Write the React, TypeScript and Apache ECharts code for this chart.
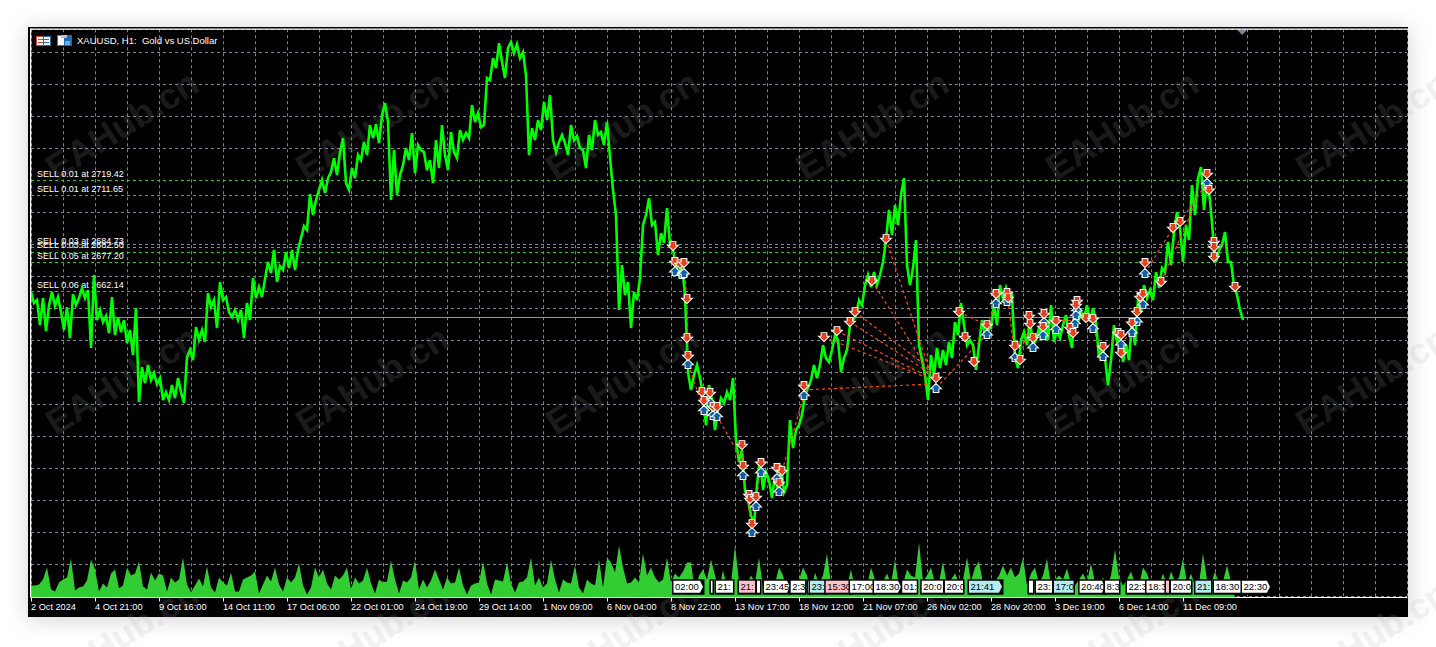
import React, { useEffect, useRef } from "react";
import * as echarts from "echarts";

const SYMBOL_TITLE = "XAUUSD, H1:  Gold vs US Dollar";
const WATERMARK = "EAHub.cn";

const dateLabels = ["2 Oct 2024", "4 Oct 21:00", "9 Oct 16:00", "14 Oct 11:00", "17 Oct 06:00", "22 Oct 01:00", "24 Oct 19:00", "29 Oct 14:00", "1 Nov 09:00", "6 Nov 04:00", "8 Nov 22:00", "13 Nov 17:00", "18 Nov 12:00", "21 Nov 07:00", "26 Nov 02:00", "28 Nov 20:00", "3 Dec 19:00", "6 Dec 14:00", "11 Dec 09:00"];

const sellLots = ["0.01", "0.01", "0.03", "0.03", "0.05", "0.06"];
const sellPrices = ["2719.42", "2711.65", "2684.73", "2682.50", "2677.20", "2662.14"];
const currentPrice = 2648.7;

// one price every 3 bars
const prices = [
  2661.8, 2656.2, 2657.7, 2644.8, 2658.7, 2641.7, 2655.1, 2661.8, 2654.6, 2659.2, 2651.5, 2642.2, 2654.1, 2638.1, 2660.8, 2655.1, 2658.7, 2663.9, 2658.7, 2662.9,
  2633.0, 2670.6, 2647.4, 2652.6, 2646.4, 2649.5, 2640.7, 2659.2, 2639.7, 2648.9, 2641.2, 2647.4, 2635.6, 2642.2, 2629.4, 2653.6, 2605.2, 2623.2, 2614.9, 2624.2,
  2616.5, 2620.1, 2614.4, 2617.5, 2606.2, 2610.3, 2606.2, 2613.9, 2607.2, 2617.5, 2610.3, 2604.7, 2628.3, 2632.0, 2626.8, 2643.8, 2637.1, 2642.2, 2636.1, 2661.3,
  2654.1, 2657.7, 2643.3, 2667.0, 2657.7, 2659.2, 2651.5, 2648.9, 2652.6, 2647.4, 2652.6, 2638.1, 2656.2, 2647.4, 2669.0, 2658.7, 2664.4, 2659.2, 2668.5, 2677.3,
  2671.6, 2683.5, 2667.0, 2675.2, 2673.2, 2682.4, 2674.2, 2683.5, 2673.2, 2683.5,
  2689.6, 2695.8, 2693.8, 2712.3, 2701.5, 2709.2, 2714.4, 2719.5, 2712.8, 2720.5,
  2723.6, 2730.8, 2722.1, 2733.9, 2741.1, 2718.0, 2714.4, 2725.7, 2720.5, 2732.4,
  2729.8, 2739.1, 2732.4, 2747.8, 2741.1, 2748.3, 2738.6, 2753.0, 2759.2, 2749.4,
  2709.2, 2734.9, 2711.8, 2722.1, 2727.2, 2736.0, 2729.8, 2743.7, 2723.1, 2737.5,
  2734.9, 2733.9, 2724.6, 2729.8, 2718.0, 2740.1, 2725.7, 2747.8, 2732.4, 2724.6,
  2744.2, 2733.9, 2730.8, 2745.2, 2740.1, 2743.7, 2741.1, 2758.1, 2749.4, 2754.0,
  2746.8, 2747.8, 2772.0, 2771.0, 2782.3, 2777.2, 2790.0, 2780.3, 2772.0, 2787.5,
  2790.6, 2784.9, 2789.5, 2782.3, 2785.4, 2773.6, 2732.4, 2746.3, 2740.1, 2750.4,
  2745.2, 2759.7, 2750.4, 2763.3, 2740.1, 2733.9, 2739.1, 2742.7, 2738.6, 2732.4,
  2747.8, 2740.1, 2742.2, 2736.0, 2734.9, 2725.7, 2742.7, 2734.9, 2750.4, 2742.7,
  2744.2, 2737.5, 2749.4, 2731.3, 2714.4, 2701.5, 2652.6, 2675.7, 2660.3, 2667.0,
  2643.3, 2661.8, 2657.7, 2669.0, 2696.3, 2701.5, 2710.2, 2696.3, 2697.9, 2680.9,
  2692.2, 2687.1, 2705.1, 2686.0, 2683.5, 2675.7, 2670.6, 2675.7, 2660.3, 2620.6,
  2611.4, 2619.1, 2624.2, 2617.5, 2608.8, 2593.3, 2613.9, 2606.2, 2590.7, 2601.1,
  2607.2, 2604.7, 2610.3, 2606.2, 2617.5, 2585.6, 2574.3, 2580.4, 2559.9, 2554.7,
  2547.0, 2541.8, 2562.4, 2576.3, 2559.9, 2569.1, 2565.0, 2555.7, 2567.6, 2559.9,
  2572.7, 2558.8, 2562.4, 2595.9, 2581.5, 2590.7, 2593.3, 2598.5, 2608.8, 2612.4,
  2616.5, 2624.2, 2617.5, 2624.2, 2634.5, 2627.8, 2625.8, 2632.0, 2639.7, 2637.1,
  2620.6, 2627.8, 2632.0, 2644.8, 2647.4, 2650.0, 2657.7, 2655.1, 2665.4, 2670.6,
  2664.4, 2672.1, 2665.4, 2670.6, 2677.3, 2688.6, 2704.1, 2691.2, 2706.6, 2696.3,
  2711.8, 2720.5, 2675.7, 2665.4, 2674.2, 2688.6, 2634.5, 2626.8, 2619.1, 2606.2,
  2629.4, 2619.1, 2633.0, 2622.7, 2632.0, 2624.2, 2636.1, 2627.8, 2646.4, 2639.7,
  2656.2, 2644.8, 2634.5, 2637.1, 2634.5, 2621.7, 2634.5, 2647.4, 2639.7, 2642.2,
  2643.3, 2655.1, 2644.8, 2665.4, 2658.7, 2663.9, 2657.7, 2660.3, 2627.8, 2622.7,
  2637.1, 2641.2, 2634.5, 2647.4, 2634.5, 2637.1, 2643.3, 2637.1, 2646.4, 2637.1,
  2655.1, 2636.1, 2642.2, 2638.1, 2644.8, 2650.0, 2639.7, 2633.0, 2655.1, 2646.4,
  2651.5, 2648.4, 2655.1, 2646.4, 2653.6, 2646.4, 2627.8, 2634.5, 2627.8, 2613.9,
  2626.8, 2644.8, 2636.1, 2639.7, 2625.8, 2634.5, 2626.8, 2647.4, 2634.5, 2657.7,
  2651.5, 2665.4, 2658.7, 2662.9, 2657.7, 2672.1, 2663.9, 2674.2, 2672.1, 2687.6,
  2675.7, 2692.7, 2703.0, 2694.8, 2677.3, 2696.3, 2688.6, 2716.9, 2701.5, 2720.5,
  2726.2, 2704.1, 2719.5, 2709.2, 2691.2, 2677.3, 2683.5, 2686.0, 2692.7, 2677.3,
  2677.3, 2665.4, 2660.3, 2652.6, 2647.4,
];

// one tick volume every 4 bars
const volumes = [
  1200, 1200, 1300, 1800, 3000, 800, 600, 1500, 1800, 2000, 3900, 700, 1000, 1100, 1700, 3800, 2800, 600, 1400, 1000, 2400, 2800, 900, 1200, 3000, 2200, 2400, 3600, 1100, 800, 2500, 1700, 2400, 2200, 600, 2000, 1500, 1800, 4000, 1300,
  500, 1200, 1900, 1100, 3100, 1000, 500, 2000, 1500, 1200, 2500, 600, 600, 1800, 2000, 2200, 2600, 400, 1300, 2200, 1600, 3000, 1300, 600, 2000, 1500, 2000, 3400, 1200, 300, 1000, 3000, 2000, 2800, 1400, 800, 2200, 1800, 2200, 3000,
  800, 2000, 1400, 1700, 3000, 1400, 400, 1800, 1500, 1600, 3700, 1800, 400, 1700, 1500, 2000, 3700, 800, 1800, 1000, 1700, 2800, 1800, 800, 2000, 1400, 1500, 3000, 1200, 300, 1200, 1400, 1500, 3600, 1400, 300, 1800, 1700, 1600, 3500,
  1400, 500, 1500, 1600, 2000, 4000, 1200, 2000, 1000, 1400, 3800, 1800, 500, 1800, 1500, 1400, 3200, 1000, 400, 1800, 1400, 1200, 3800, 1000, 4000, 3500, 2500, 5200, 3000, 1400, 1500, 2000, 1500, 4400, 2200, 3000, 2000, 1500, 1800, 4000,
  1500, 2400, 2000, 2600, 3500, 3500, 500, 2200, 2800, 1800, 3800, 2200, 800, 2700, 1100, 1400, 5200, 1600, 1800, 1400, 2200, 1500, 4000, 1000, 1200, 1000, 1400, 3000, 2200, 800, 1100, 1600, 1800, 3000, 2200, 500, 2500, 1400, 2200, 4400,
  1400, 1100, 1100, 1200, 1200, 2800, 900, 1000, 1300, 1200, 3000, 1800, 1400, 1600, 2400, 1400, 3800, 1000, 1400, 2800, 2200, 2000, 5500, 1600, 2200, 3000, 1400, 1500, 3600, 1100, 1800, 2400, 1500, 1800, 4000,
  1600, 3000, 3600, 1400, 1000, 1200, 1600, 2200, 3200, 2200, 3000, 2000, 2400, 4000, 1200, 2400, 3000, 1400, 2200, 3900, 1200, 1800, 2200, 1800, 2900, 1400, 1200, 1800, 2400, 1600, 3400, 1500, 1400, 2000, 1200, 2200, 4800, 2000, 1200, 1800,
  2600, 1400, 1200, 3000, 2400, 1200, 1400, 1200, 2400, 1200, 2600, 1600, 2000, 3900, 1400, 2400, 1200, 1400, 4400, 1800, 1400, 2600, 1400, 1600, 3200, 1600, 0,
];

// order arrows: bar index, then price
const sellBars = [642, 644, 649, 653, 656, 656, 657, 671, 673, 679, 682, 686, 711, 712, 718, 719, 725, 721, 730, 746, 751, 748, 773, 793, 806, 819, 824, 841, 855, 905, 928, 934, 943, 956, 965, 976, 977, 984, 989, 998, 999, 1002, 1012, 1013, 1025, 1039, 1042, 1046, 1045, 1055, 1062, 1072, 1087, 1090, 1090, 1101, 1106, 1109, 1112, 1114, 1130, 1142, 1149, 1176, 1178, 1183, 1183, 1183, 1204];
const sellLevels = [2685.5, 2677.3, 2676.2, 2676.8, 2658.2, 2638.1, 2628.9, 2610.3, 2605.7, 2609.8, 2602.6, 2602.6, 2583.0, 2572.2, 2557.3, 2555.2, 2556.2, 2542.3, 2573.8, 2571.2, 2569.6, 2563.4, 2613.4, 2638.6, 2641.7, 2646.4, 2651.5, 2667.5, 2689.1, 2617.5, 2651.5, 2638.6, 2625.8, 2644.8, 2660.8, 2661.3, 2658.7, 2634.0, 2626.8, 2649.5, 2645.3, 2638.1, 2643.8, 2650.5, 2646.9, 2643.3, 2640.7, 2657.2, 2655.1, 2648.4, 2647.9, 2633.5, 2640.7, 2639.7, 2630.4, 2645.9, 2651.5, 2659.2, 2660.8, 2676.8, 2667.0, 2694.8, 2697.9, 2722.6, 2714.4, 2687.6, 2685.0, 2679.8, 2664.4];
const buyBars = [644, 651, 653, 657, 673, 679, 682, 686, 712, 725, 721, 730, 746, 748, 773, 905, 956, 965, 976, 984, 1002, 1012, 1013, 1025, 1046, 1045, 1044, 1062, 1072, 1090, 1101, 1106, 1112, 1114, 1176];
const buyLevels = [2672.6, 2671.1, 2671.6, 2624.8, 2601.1, 2605.2, 2598.5, 2598.0, 2567.6, 2551.6, 2538.2, 2569.1, 2566.0, 2559.3, 2608.8, 2612.4, 2640.2, 2656.2, 2657.2, 2628.3, 2633.5, 2639.7, 2646.4, 2642.8, 2652.6, 2650.0, 2645.9, 2643.3, 2628.9, 2635.0, 2641.2, 2646.9, 2655.6, 2671.6, 2718.0];

// trade connectors: open bar, open price, close bar, close price
const trades = [
  [656, 2658.2, 657, 2624.8], [642, 2685.5, 644, 2672.6], [653, 2676.8, 656, 2657.7], [657, 2624.8, 673, 2601.1], [686, 2598.0, 711, 2575.3], [711, 2583.0, 712, 2567.6], [712, 2572.2, 721, 2538.2], [730, 2573.8, 725, 2551.6], [751, 2569.6, 773, 2608.8],
  [773, 2611.4, 899, 2614.4], [793, 2638.6, 897, 2617.5], [806, 2641.7, 894, 2619.1], [819, 2646.4, 899, 2620.1], [824, 2651.5, 901, 2621.7], [841, 2667.5, 899, 2620.1], [855, 2689.1, 901, 2617.5],
  [905, 2612.4, 956, 2640.2], [928, 2651.5, 956, 2644.8], [956, 2644.8, 965, 2656.2], [977, 2657.7, 984, 2628.3], [989, 2626.8, 998, 2645.9], [1013, 2646.4, 1044, 2647.4], [1062, 2643.3, 1072, 2628.9], [1072, 2632.0, 1090, 2639.7], [1090, 2635.0, 1101, 2642.0], [1114, 2671.6, 1142, 2694.8], [1130, 2667.0, 1166, 2709.2], [1149, 2697.9, 1176, 2718.0],
];

// open-time flags on the bottom edge
const flagStart = [642.5, 680, 685, 708, 726, 733, 759.7, 777, 779, 794.7, 819, 843, 871.3, 890.7, 914, 938, 998, 1005, 1023, 1048.6, 1074, 1096, 1115.5, 1135, 1140, 1164.5, 1183, 1211];
const flagEnd = [669, 681.5, 702, 724, 729, 756, 774, 778.5, 794, 819, 842.5, 867, 885.7, 912, 932, 968, 1002, 1021, 1042.5, 1071, 1088, 1115, 1135, 1138, 1160, 1180, 1211, 1236];
const flagText = ["02:00", "", "21:", "21:", "", "23:45", "2:3", "", "23:", "15:30", "17:00", "18:30", "01:", "20:0", "20:0", "21:41", "", "23:", "17:0", "20:40", "8:3", "22:3", "18:3", "", "20:0", "21:", "18:30", "22:30"];
const flagKind = ["open", "open", "open", "loss", "open", "open", "open", "open", "win", "loss", "open", "open", "open", "open", "open", "win", "open", "open", "win", "open", "open", "open", "open", "loss", "open", "win", "open", "open"];
const flagPointed = [1, 0, 0, 0, 0, 1, 0, 0, 0, 0, 0, 1, 0, 0, 0, 1, 0, 0, 0, 1, 0, 0, 0, 0, 0, 0, 0, 1];

const FONT = "'Liberation Sans', Arial, sans-serif";
const GRID_COLOR = "#778899";
const KIND_COLOR: Record<string, string> = { open: "#ffffff", loss: "#ffc0cb", win: "#b4ecf2" };
const DOWN_ARROW = "path://M-2.8,-5 L2.8,-5 L2.8,-1 L5.4,-1 L0,5 L-5.4,-1 L-2.8,-1 Z";
const UP_ARROW = "path://M0,-5 L5.4,1 L2.8,1 L2.8,5 L-2.8,5 L-2.8,1 L-5.4,1 Z";

function watermarks() {
  const out: any[] = [];
  [125, 380, 635].forEach((y) =>
    [122, 372, 622, 872, 1122, 1372].forEach((x) =>
      out.push({
        type: "text", x, y, rotation: 0.56, z: -5, silent: true,
        style: { text: WATERMARK, fill: "rgba(170,170,170,0.18)", font: `bold 36px ${FONT}`, align: "center", verticalAlign: "middle" },
      })
    )
  );
  return out;
}

function icons() {
  const r = (x: number, y: number, w: number, h: number, fill: string) => ({ type: "rect", z: 120, silent: true, shape: { x, y, width: w, height: h }, style: { fill } });
  return [
    r(36, 36, 8, 10, "#d8402c"), r(37, 37, 6, 8, "#ffffff"), r(43, 36, 8, 10, "#1c6cb0"), r(44, 37, 6, 8, "#ffffff"),
    r(38, 39, 5, 1, "#d8402c"), r(38, 42, 5, 1, "#d8402c"), r(44, 39, 5, 1, "#1c6cb0"), r(44, 42, 5, 1, "#1c6cb0"),
    r(57, 35, 8, 11, "#d8402c"), r(58, 36, 6, 9, "#ffffff"), r(64, 35, 8, 11, "#1c6cb0"), r(65, 41, 5, 4, "#6cb0e0"), r(61, 35, 6, 3, "#c0c0c0"),
  ];
}

function renderFlag(params: any, api: any) {
  const sys = params.coordSys;
  const i = api.value(2);
  const x0 = api.coord([api.value(0), 0])[0];
  const x1 = api.coord([api.value(1), 0])[0];
  const bottom = sys.y + sys.height;
  const top = bottom - 16.8;
  const low = bottom - 4.8;
  const pointed = flagPointed[i] === 1;
  const tip = pointed ? x1 + 3 : x1;
  const fill = KIND_COLOR[flagKind[i]];
  const children: any[] = [
    { type: "rect", shape: { x: x0 - 1.5, y: top - 1.5, width: tip - x0 + 3, height: low - top + 3.5 }, style: { fill: "#000" } },
    { type: "polygon", shape: { points: [[x0, top], [x1, top], [tip, (top + low) / 2], [x1, low], [x0, low]] }, style: { fill } },
  ];
  if (flagText[i]) {
    children.push({ type: "text", style: { x: x0 + 1.5, y: (top + low) / 2, text: flagText[i], fill: "#000", font: `9.5px ${FONT}`, verticalAlign: "middle" } });
  }
  return { type: "group", children };
}

export default function App() {
  const ref = useRef<HTMLDivElement>(null);
  useEffect(() => {
    const chart = echarts.init(ref.current!, undefined, { renderer: "svg" });
    chart.setOption({
      animation: false,
      backgroundColor: "#ffffff",
      grid: [
        { left: 31, top: 29.3, width: 1376, height: 567 },
        { left: 31, top: 540, width: 1376, height: 57.5 },
      ],
      xAxis: [
        {
          gridIndex: 0, type: "value", min: 0, max: 1376, interval: 32,
          axisLine: { show: false }, axisTick: { show: false }, axisLabel: { show: false },
          splitLine: { show: true, lineStyle: { color: GRID_COLOR, type: [3, 3], width: 1 } },
        },
        {
          gridIndex: 1, type: "value", min: 0, max: 1376, interval: 64,
          splitLine: { show: false },
          axisLine: { show: true, lineStyle: { color: "#ffffff", width: 1 } },
          axisTick: { show: true, length: 4, lineStyle: { color: "#ffffff" }, customValues: dateLabels.map((_, i) => i * 64) },
          axisLabel: {
            show: true, color: "#ffffff", fontFamily: FONT, fontSize: 9.2, align: "left", margin: 5, hideOverlap: false,
            customValues: dateLabels.map((_, i) => i * 64),
            formatter: (v: number) => dateLabels[Math.round(v / 64)] ?? "",
          },
        },
      ],
      yAxis: [
        {
          gridIndex: 0, type: "value", min: 2505.1272, max: 2797.15, interval: 16.4811,
          axisLine: { show: false }, axisTick: { show: false }, axisLabel: { show: false },
          splitLine: { show: true, lineStyle: { color: GRID_COLOR, type: [3, 3], width: 1 } },
        },
        {
          gridIndex: 1, type: "value", min: 0, max: 5750,
          axisLine: { show: false }, axisTick: { show: false }, axisLabel: { show: false }, splitLine: { show: false },
        },
      ],
      series: [
        {
          type: "line", xAxisIndex: 1, yAxisIndex: 1, z: 1, symbol: "none", silent: true,
          data: volumes.map((v, i) => [i * 4, v]),
          lineStyle: { width: 0 }, areaStyle: { color: "#32cd32", opacity: 1 },
        },
        {
          type: "line", xAxisIndex: 0, yAxisIndex: 0, z: 3, symbol: "none", silent: true,
          data: prices.map((p, i) => [i * 3, p]),
          lineStyle: { color: "#00ff00", width: 2.6, join: "miter" },
          markLine: {
            silent: true, symbol: "none", animation: false, z: 2,
            data: [
              ...sellPrices.map((p, i) => ({
                yAxis: Number(p),
                lineStyle: { color: "#22c922", type: [3, 3], width: 1 },
                label: { show: true, position: "insideStartTop", formatter: `SELL ${sellLots[i]} at ${p}`, color: "#ffffff", fontFamily: FONT, fontSize: 9, distance: [6, 2] },
              })),
              { yAxis: currentPrice, lineStyle: { color: "#8896a4", type: "solid", width: 1 }, label: { show: false } },
            ],
          },
        },
        {
          type: "lines", coordinateSystem: "cartesian2d", xAxisIndex: 0, yAxisIndex: 0, z: 4, silent: true,
          data: trades.map((t) => ({ coords: [[t[0], t[1]], [t[2], t[3]]] })),
          lineStyle: { color: "#ff4a14", width: 1.2, type: [3, 3], opacity: 1 },
        },
        {
          type: "scatter", xAxisIndex: 0, yAxisIndex: 0, z: 5, silent: true,
          symbol: UP_ARROW, symbolSize: [11, 9],
          data: buyBars.map((b, i) => [b, buyLevels[i]]),
          itemStyle: { color: "#1060a8", borderColor: "#ffffff", borderWidth: 1, opacity: 1 },
        },
        {
          type: "scatter", xAxisIndex: 0, yAxisIndex: 0, z: 6, silent: true,
          symbol: DOWN_ARROW, symbolSize: [11, 9],
          data: sellBars.map((b, i) => [b, sellLevels[i]]),
          itemStyle: { color: "#e8401c", borderColor: "#ffffff", borderWidth: 1, opacity: 1 },
        },
        {
          type: "custom", xAxisIndex: 1, yAxisIndex: 1, z: 8, silent: true, clip: false,
          data: flagStart.map((s, i) => [s, flagEnd[i], i]),
          encode: { x: [0, 1] },
          renderItem: renderFlag,
        },
      ],
      graphic: [
        { type: "rect", z: -10, silent: true, shape: { x: 28, y: 27, width: 1380, height: 590 }, style: { fill: "#000000", shadowBlur: 22, shadowColor: "rgba(0,0,0,0.18)", shadowOffsetY: 2 } },
        ...watermarks(),
        { type: "rect", z: 100, silent: true, shape: { x: 30, y: 28.5, width: 1378, height: 1.2 }, style: { fill: "#ffffff" } },
        { type: "rect", z: 100, silent: true, shape: { x: 30, y: 28.5, width: 1.2, height: 569 }, style: { fill: "#ffffff" } },
        { type: "polygon", z: 100, silent: true, shape: { points: [[1237.5, 30], [1247, 30], [1242.2, 35]] }, style: { fill: GRID_COLOR } },
        ...icons(),
        { type: "text", z: 120, silent: true, x: 77, y: 40.5, style: { text: SYMBOL_TITLE, fill: "#ffffff", font: `9.5px ${FONT}`, verticalAlign: "middle" } },
      ],
    });
    return () => chart.dispose();
  }, []);
  return <div ref={ref} style={{ position: "fixed", left: 0, top: 0, width: 1436, height: 647 }} />;
}
